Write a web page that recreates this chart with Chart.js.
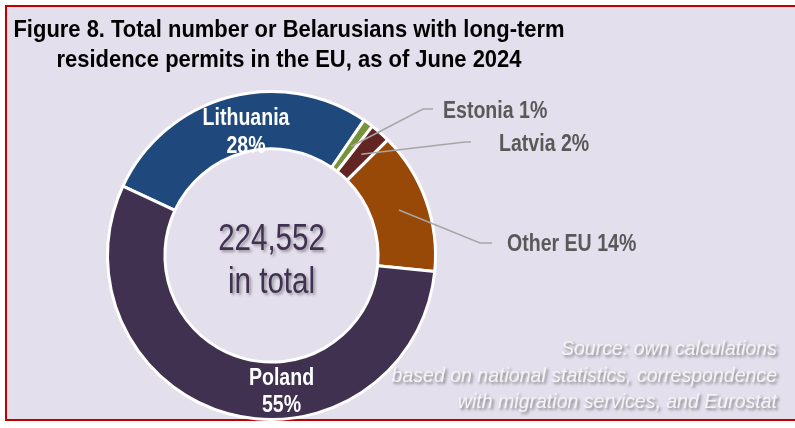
<!DOCTYPE html>
<html><head><meta charset="utf-8">
<script src="https://cdn.jsdelivr.net/npm/chart.js@4"></script>
<style>
html,body{margin:0;padding:0;background:#fff;width:795px;height:428px;overflow:hidden;}
#frame{position:absolute;left:5px;top:5px;width:830px;height:412px;border:2px solid #C00000;background:#E4DFEC;}
#c{position:absolute;left:0;top:0;}
</style></head><body>
<div id="frame"></div>
<canvas id="c" width="795" height="428"></canvas>
<script>
// ---- data ----
const categories = ['Lithuania', 'Estonia', 'Latvia', 'Other EU', 'Poland'];
const permits = [61976, 2246, 4491, 31437, 124402];
const sliceColors = ['#1F497D', '#77933C', '#632523', '#984807', '#403151'];
const titleLines = ['Figure 8. Total number or Belarusians with long-term', 'residence permits in the EU, as of June 2024'];
const sourceLines = ['Source: own calculations', 'based on national statistics, correspondence', 'with migration services, and Eurostat'];
const totalSuffix = 'in total';

// ---- layout (offsets relative to doughnut centre) ----
const FONT = "'Liberation Sans', Arial, sans-serif";
const labelLayout = {
  'Lithuania': {inside: true, x: -25.5, y1: -130.5, y2: -102.5},
  'Poland':    {inside: true, x: 10, y1: 129.5, y2: 156.5},
  'Estonia':   {elbow: [151.5, -146.5], end: [161.5, -146.5], tx: 171.5, ty: -137.5},
  'Latvia':    {elbow: [193.5, -113.5], end: [199.5, -113.5], tx: 227.5, ty: -104.5},
  'Other EU':  {elbow: [208.5, -12.5], end: [220.5, -12.5], tx: 235.5, ty: -4.5}
};

const total = permits.reduce((a, b) => a + b, 0);
const pct = v => Math.round(v / total * 100) + '%';

function drawScaled(ctx, text, x, y, align, sx) {
  ctx.save();
  ctx.translate(x, y);
  ctx.scale(sx, 1);
  ctx.textAlign = align;
  ctx.textBaseline = 'alphabetic';
  ctx.fillText(text, 0, 0);
  ctx.restore();
}

const annotatePlugin = {
  id: 'annotate',
  afterDatasetsDraw(chart) {
    const ctx = chart.ctx;
    const meta = chart.getDatasetMeta(0);
    const cx = meta.data[0].x, cy = meta.data[0].y;
    ctx.save();
    // slice labels
    meta.data.forEach((arc, i) => {
      const cat = categories[i];
      const L = labelLayout[cat];
      const p = pct(permits[i]);
      ctx.font = 'bold 23px ' + FONT;
      if (L.inside) {
        ctx.fillStyle = '#FFFFFF';
        drawScaled(ctx, cat, cx + L.x, cy + L.y1, 'center', 0.85);
        drawScaled(ctx, p, cx + L.x, cy + L.y2, 'center', 0.85);
      } else {
        const a = arc.tooltipPosition();
        ctx.strokeStyle = '#A6A6A6';
        ctx.lineWidth = 1.5;
        ctx.beginPath();
        ctx.moveTo(a.x, a.y);
        ctx.lineTo(cx + L.elbow[0], cy + L.elbow[1]);
        ctx.lineTo(cx + L.end[0], cy + L.end[1]);
        ctx.stroke();
        ctx.fillStyle = '#595959';
        drawScaled(ctx, cat + ' ' + p, cx + L.tx, cy + L.ty, 'left', 0.85);
      }
    });
    // centre total
    ctx.shadowColor = 'rgba(0,0,0,0.35)';
    ctx.shadowOffsetX = 2; ctx.shadowOffsetY = 2; ctx.shadowBlur = 3;
    ctx.fillStyle = '#403151';
    ctx.font = '36px ' + FONT;
    drawScaled(ctx, total.toLocaleString('en-US'), cx, cy - 5.5, 'center', 0.82);
    drawScaled(ctx, totalSuffix, cx, cy + 37.5, 'center', 0.82);
    // source
    ctx.shadowColor = 'rgba(0,0,0,0.45)';
    ctx.fillStyle = '#F4F4F4';
    ctx.font = 'italic 21px ' + FONT;
    sourceLines.forEach((s, k) => drawScaled(ctx, s, 777, 355 + k * 26.5, 'right', 0.93));
    // title
    ctx.shadowColor = 'transparent';
    ctx.fillStyle = '#000000';
    ctx.font = 'bold 24px ' + FONT;
    titleLines.forEach((s, k) => drawScaled(ctx, s, 289, 37 + k * 30, 'center', 0.915));
    ctx.restore();
  }
};

new Chart(document.getElementById('c'), {
  type: 'doughnut',
  data: {
    labels: categories,
    datasets: [{
      data: permits,
      backgroundColor: sliceColors,
      borderColor: '#FFFFFF',
      borderWidth: 3
    }]
  },
  options: {
    responsive: false,
    animation: false,
    rotation: -65,
    cutout: '65%',
    layout: {padding: {left: 106, right: 358, top: 90, bottom: 7}},
    plugins: {legend: {display: false}, tooltip: {enabled: false}, title: {display: false}}
  },
  plugins: [annotatePlugin]
});
</script>
</body></html>
